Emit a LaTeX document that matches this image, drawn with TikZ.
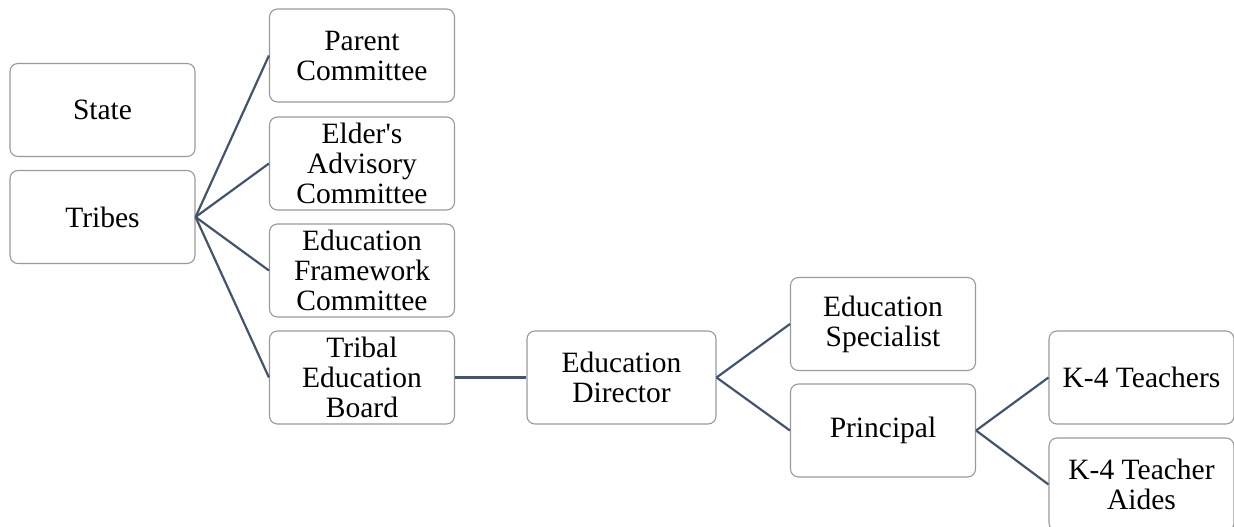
\documentclass[tikz,border=0pt]{standalone}
\usepackage{fontspec}
\setmainfont{Liberation Serif}
\definecolor{linkc}{HTML}{44546A}
\definecolor{boxc}{HTML}{9A9A9A}
\begin{document}
\begin{tikzpicture}[x=1pt,y=-1pt,
  orgbox/.style={draw=boxc, line width=1.1pt, rounded corners=8pt, fill=white,
    minimum width=185pt, minimum height=93pt, align=center, inner sep=2pt,
    font=\fontsize{29.5}{30}\selectfont},
  link/.style={draw=linkc, line width=2.2pt}]
\useasboundingbox (0,0) rectangle (1234,527);
\node[orgbox] (state) at (102.5,110) {State};
\node[orgbox] (tribes) at (102.5,217) {Tribes};
\node[orgbox] (parent) at (362,55.5) {Parent\\Committee};
\node[orgbox] (elder) at (362,163.5) {Elder\textquotesingle s\\Advisory\\Committee};
\node[orgbox] (frame) at (362,270.5) {Education\\Framework\\Committee};
\node[orgbox] (teb) at (362,377.5) {Tribal\\Education\\Board};
\node[orgbox, minimum width=189pt] (dir) at (621.5,377.5) {Education\\Director};
\node[orgbox] (spec) at (883,324) {Education\\Specialist};
\node[orgbox] (prin) at (883,430.5) {Principal};
\node[orgbox] (k4t) at (1141.5,377.5) {K-4 Teachers};
\node[orgbox] (k4a) at (1141.5,484.5) {K-4 Teacher\\Aides};
\draw[link] (tribes.east) -- (parent.west);
\draw[link] (tribes.east) -- (elder.west);
\draw[link] (tribes.east) -- (frame.west);
\draw[link] (tribes.east) -- (teb.west);
\draw[link] (teb.east) -- (dir.west);
\draw[link] (dir.east) -- (spec.west);
\draw[link] (dir.east) -- (prin.west);
\draw[link] (prin.east) -- (k4t.west);
\draw[link] (prin.east) -- (k4a.west);
\end{tikzpicture}
\end{document}
